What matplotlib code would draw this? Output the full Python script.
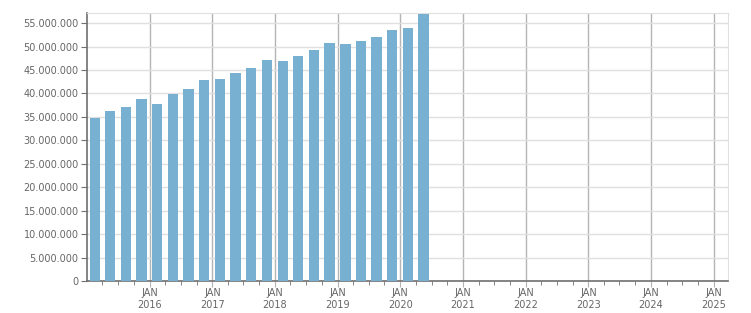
import matplotlib
matplotlib.use("Agg")
import matplotlib.pyplot as plt
import matplotlib.dates as mdates
from matplotlib.ticker import FuncFormatter, MultipleLocator
import datetime as dt

quarters = ["2015-01-01", "2015-04-01", "2015-07-01", "2015-10-01",
            "2016-01-01", "2016-04-01", "2016-07-01", "2016-10-01",
            "2017-01-01", "2017-04-01", "2017-07-01", "2017-10-01",
            "2018-01-01", "2018-04-01", "2018-07-01", "2018-10-01",
            "2019-01-01", "2019-04-01", "2019-07-01", "2019-10-01",
            "2020-01-01", "2020-04-01"]
values = [34.8, 36.3, 37.1, 38.8, 37.8, 39.9, 41.0, 42.9, 43.1, 44.4, 45.4,
          47.2, 46.9, 48.0, 49.3, 50.8, 50.6, 51.2, 52.1, 53.6, 54.0, 57.0]
values = [v * 1e6 for v in values]
years = list(range(2016, 2026))

starts = [dt.datetime.strptime(q, "%Y-%m-%d") for q in quarters]
centers = [mdates.date2num(s + dt.timedelta(days=45)) for s in starts]

fig = plt.figure(figsize=(7.51, 3.13), dpi=100)
ax = fig.add_axes([0.1158, 0.1022, 0.8536, 0.8553])

ax.bar(centers, values, width=60, color="#78b0d2", zorder=3)

ax.set_xlim(mdates.date2num(dt.datetime(2015, 1, 1)),
            mdates.date2num(dt.datetime(2025, 3, 25)))
ax.set_ylim(0, 57.1e6)

ax.yaxis.set_major_locator(MultipleLocator(5e6))
ax.yaxis.set_major_formatter(FuncFormatter(lambda v, p: f"{int(v):,}".replace(",", ".")))

ax.set_xticks([mdates.date2num(dt.datetime(y, 1, 1)) for y in years])
ax.set_xticklabels([f"JAN\n{y}" for y in years])
minor = []
for y in range(2015, 2026):
    for m in (4, 7, 10):
        d = dt.datetime(y, m, 1)
        if d <= dt.datetime(2025, 3, 25):
            minor.append(mdates.date2num(d))
ax.set_xticks(minor, minor=True)

ax.grid(axis="y", color="#e0e0e0", linewidth=1, zorder=0)
ax.grid(axis="x", which="major", color="#b4b4b4", linewidth=1, zorder=1)

for s in ("top", "right"):
    ax.spines[s].set_color("#e0e0e0")
for s in ("left", "bottom"):
    ax.spines[s].set_color("#707070")
    ax.spines[s].set_linewidth(1.2)

ax.tick_params(axis="y", length=4, color="#707070", labelsize=7, labelcolor="#666666", pad=2)
ax.tick_params(axis="x", which="major", length=4, color="#b4b4b4", labelsize=7,
               labelcolor="#666666", pad=1)
ax.tick_params(axis="x", which="minor", length=3, color="#707070")
for lbl in ax.get_xticklabels():
    lbl.set_linespacing(1.3)

fig.savefig("out.png", dpi=100)
